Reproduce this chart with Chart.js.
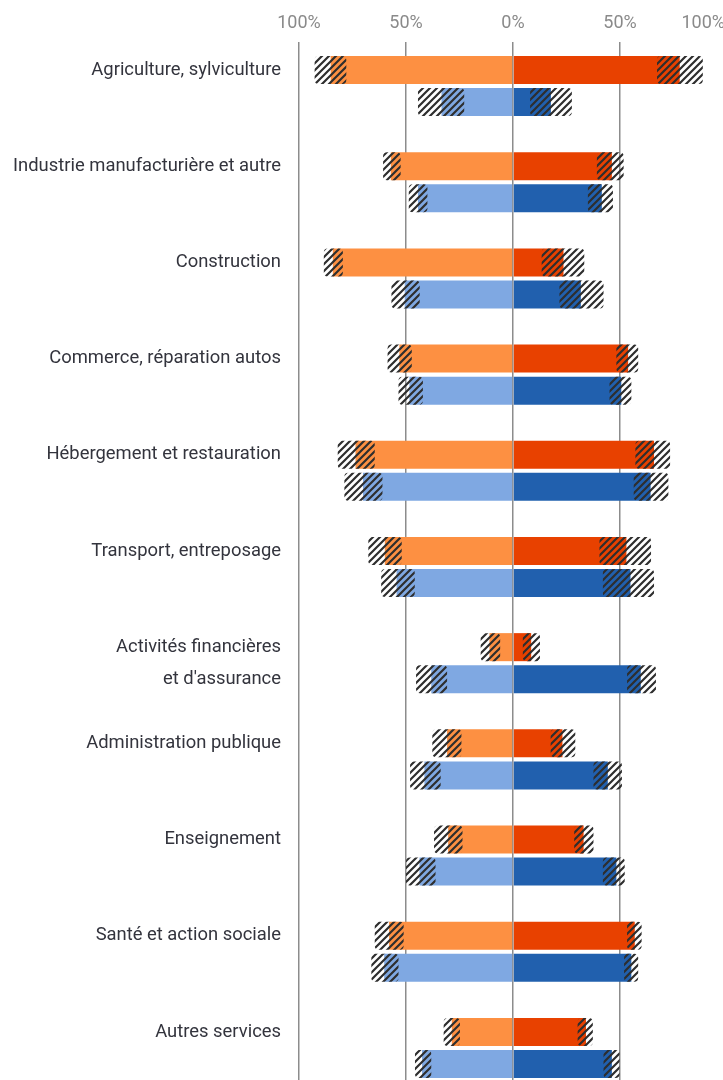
<!DOCTYPE html>
<html>
<head>
<meta charset="utf-8">
<script src="https://cdn.jsdelivr.net/npm/chart.js@4.4.1/dist/chart.umd.min.js"></script>
<style>
  html, body { margin: 0; padding: 0; background: #fff; overflow: hidden; }
  /* a few px wider than the window: the right 100% gridline sits just off screen */
  #wrap { position: relative; width: 727px; height: 1080px; }
</style>
</head>
<body>
<div id="wrap"><canvas id="chart"></canvas></div>
<script>
// sectors, one entry per pair of bars (second line goes next to the blue bar)
const categories = [
  ['Agriculture, sylviculture'],
  ['Industrie manufacturière et autre'],
  ['Construction'],
  ['Commerce, réparation autos'],
  ['Hébergement et restauration'],
  ['Transport, entreposage'],
  ['Activités financières', "et d'assurance"],
  ['Administration publique'],
  ['Enseignement'],
  ['Santé et action sociale'],
  ['Autres services']
];

// top (orange) bars, in % : value, lower and upper bound of the hatched band
const orangeLeft = [85.2, 57.1, 84.2, 53.1, 73.6, 59.9, 11.0, 30.8, 30.3, 57.9, 28.6];
const orangeLeftLow = [77.9, 52.5, 79.5, 47.3, 64.6, 52.0, 6.0, 24.1, 23.6, 51.1, 24.8];
const orangeLeftHigh = [92.7, 60.7, 88.4, 58.6, 81.9, 67.6, 15.1, 37.7, 36.9, 64.6, 32.4];

const orangeRight = [77.9, 46.2, 23.6, 53.8, 65.9, 53.0, 8.5, 23.1, 33.0, 56.9, 34.1];
const orangeRightLow = [67.3, 39.2, 13.4, 48.3, 57.2, 40.4, 4.6, 17.6, 28.6, 53.3, 30.2];
const orangeRightHigh = [88.7, 51.7, 33.3, 58.5, 73.4, 64.5, 12.6, 29.1, 37.6, 60.1, 37.3];

// bottom (blue) bars
const blueLeft = [33.4, 44.4, 50.6, 48.4, 70.1, 54.4, 38.2, 41.4, 43.7, 60.2, 42.5];
const blueLeftLow = [22.8, 40.0, 43.6, 42.1, 61.0, 45.9, 30.8, 33.8, 36.2, 53.5, 38.2];
const blueLeftHigh = [44.4, 48.7, 56.8, 53.5, 78.8, 61.6, 45.3, 48.1, 50.0, 66.2, 45.8];

const blueRight = [17.7, 41.5, 31.7, 50.6, 64.3, 54.9, 59.7, 44.3, 48.3, 55.3, 46.2];
const blueRightLow = [8.0, 35.0, 21.7, 45.1, 56.4, 42.0, 53.3, 37.6, 42.0, 51.9, 42.3];
const blueRightHigh = [27.5, 46.7, 42.3, 55.3, 72.6, 65.9, 66.8, 50.9, 52.2, 58.5, 49.8];

// axis ticks
const xMin = -100;
const xMax = 100;
const xStep = 50;

const colors = {
  orangeLeft: '#fd9042',
  orangeRight: '#e84100',
  blueLeft: '#7fa8e2',
  blueRight: '#2160ae',
  grid: '#8c8c8c',
  tick: '#8a8a8a',
  label: '#33343d'
};
const tickFont = { family: 'Roboto', size: 18 };
const labelFont = { family: 'Roboto', size: 18.4 };

// each sector = orange row, blue row, empty spacer row (none after the last one)
const rows = [];
categories.forEach((lines, i) => {
  rows.push({ group: 'orange', i, text: lines[0] });
  rows.push({ group: 'blue', i, text: lines[1] || '' });
  if (i < categories.length - 1) rows.push({ group: null, i, text: '' });
});

function pick(orangeArr, blueArr) {
  return rows.map(r => {
    if (r.group === 'orange') return orangeArr[r.i];
    if (r.group === 'blue') return blueArr[r.i];
    return null;
  });
}

function band(low, high, sign) {
  return low.map((lo, k) => [sign * lo, sign * high[k]]);
}

const rowColors = (orange, blue) => rows.map(r => r.group === 'blue' ? blue : orange);

// diagonal hatching, transparent between the stripes
function makeHatch() {
  const size = 7;
  const tile = document.createElement('canvas');
  tile.width = tile.height = size;
  const g = tile.getContext('2d');
  g.strokeStyle = '#2e2e2e';
  g.lineWidth = 2.2;
  g.beginPath();
  g.moveTo(-1, size + 1); g.lineTo(size + 1, -1);
  g.moveTo(-size / 2 - 1, size / 2 + 1); g.lineTo(size / 2 + 1, -size / 2 - 1);
  g.moveTo(size / 2 - 1, size * 1.5 + 1); g.lineTo(size * 1.5 + 1, size / 2 - 1);
  g.stroke();
  return g.createPattern(tile, 'repeat');
}
const hatch = makeHatch();

// the 100% tick on the right falls outside the window, its label is pulled left of it
const edgeTickLabel = {
  id: 'edgeTickLabel',
  afterDraw(chart) {
    const scale = chart.scales.x;
    const opts = scale.options;
    const lineHeight = tickFont.size * 1.2;
    const y = scale.bottom - opts.grid.tickLength - opts.ticks.padding - lineHeight / 2;
    const ctx = chart.ctx;
    ctx.save();
    ctx.font = tickFont.size + 'px ' + tickFont.family;
    ctx.fillStyle = colors.tick;
    ctx.textAlign = 'right';
    ctx.textBaseline = 'middle';
    ctx.fillText(Math.abs(xMax) + '%', scale.getPixelForValue(xMax) - 2, y);
    ctx.restore();
  }
};

const leftBars = pick(orangeLeft, blueLeft).map(v => v == null ? null : -v);
const rightBars = pick(orangeRight, blueRight);
const leftBand = pick(band(orangeLeftLow, orangeLeftHigh, -1), band(blueLeftLow, blueLeftHigh, -1));
const rightBand = pick(band(orangeRightLow, orangeRightHigh, 1), band(blueRightLow, blueRightHigh, 1));

const barStyle = { grouped: false, barPercentage: 0.875, categoryPercentage: 1, order: 1 };
const bandStyle = {
  grouped: false, barPercentage: 0.875, categoryPercentage: 1, order: 0,
  backgroundColor: hatch, borderRadius: 4, borderSkipped: false
};

new Chart(document.getElementById('chart'), {
  type: 'bar',
  data: {
    labels: rows.map(r => r.text),
    datasets: [
      { ...barStyle, data: leftBars, backgroundColor: rowColors(colors.orangeLeft, colors.blueLeft) },
      { ...barStyle, data: rightBars, backgroundColor: rowColors(colors.orangeRight, colors.blueRight) },
      { ...bandStyle, data: leftBand },
      { ...bandStyle, data: rightBand }
    ]
  },
  options: {
    indexAxis: 'y',
    responsive: true,
    maintainAspectRatio: false,
    animation: false,
    layout: { padding: 0 },
    scales: {
      x: {
        position: 'top',
        min: xMin,
        max: xMax,
        stacked: false,
        border: { display: false },
        grid: { color: colors.grid, lineWidth: 1.5, tickLength: 12, drawTicks: true },
        ticks: {
          stepSize: xStep,
          padding: 8,
          color: colors.tick,
          font: tickFont,
          maxRotation: 0,
          callback: v => v === xMax ? '' : Math.abs(v) + '%'
        },
        afterFit: scale => {
          scale.height = 54;
          scale.paddingLeft = 0;
          scale.paddingRight = 0;
        }
      },
      y: {
        border: { display: false },
        grid: { display: false, drawTicks: false },
        ticks: {
          autoSkip: false,
          padding: 18,
          color: colors.label,
          font: labelFont
        },
        afterFit: scale => {
          scale.width = 299;
          // rows run right up to the bottom edge, no room kept for label overhang
          scale.paddingTop = 0;
          scale.paddingBottom = 0;
        }
      }
    },
    plugins: {
      legend: { display: false },
      tooltip: { enabled: false }
    }
  },
  plugins: [edgeTickLabel]
});
</script>
</body>
</html>
